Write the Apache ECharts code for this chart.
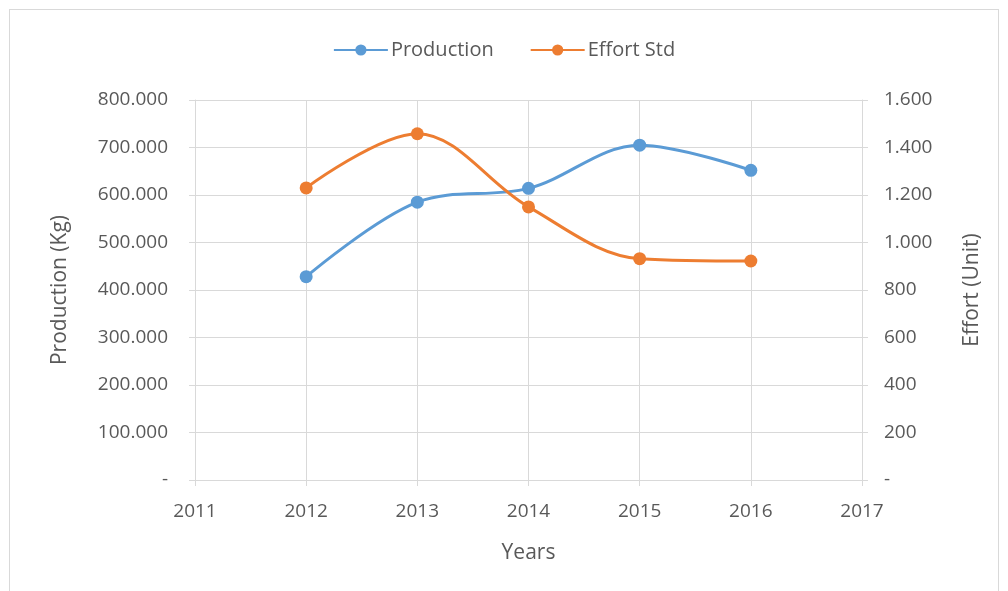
<!DOCTYPE html>
<html>
<head>
<meta charset="utf-8">
<script src="https://cdn.jsdelivr.net/npm/echarts@6/dist/echarts.min.js"></script>
<style>
html,body{margin:0;padding:0;background:#fff;}
#frame{position:absolute;left:9px;top:9px;width:990px;height:590px;border:1px solid #D9D9D9;box-sizing:border-box;}
#chart{position:absolute;left:0;top:0;width:1008px;height:591px;}
</style>
</head>
<body>
<div id="frame"></div>
<div id="chart"></div>
<script>
const years = [2012, 2013, 2014, 2015, 2016];
const production = [428000, 585000, 614000, 705000, 652000];
const effortStd = [1230, 1458, 1150, 932, 922];
const seriesNames = ['Production', 'Effort Std'];
const xTitle = 'Years';
const yLeftTitle = 'Production (Kg)';
const yRightTitle = 'Effort (Unit)';

function fmtDots(v) {
  if (v === 0) return '-';
  return String(Math.round(v)).replace(/\B(?=(\d{3})+(?!\d))/g, '.');
}

const textColor = '#595959';
const gridColor = '#D9D9D9';
const font = '"Open Sans", Lato, sans-serif';

const chart = echarts.init(document.getElementById('chart'));
chart.setOption({
  animation: false,
  textStyle: { fontFamily: font },
  legend: {
    top: 35,
    left: 'center',
    itemWidth: 54,
    itemHeight: 14,
    itemGap: 36,
    textStyle: { color: textColor, fontSize: 20, fontFamily: font, padding: [0, 0, 0, -2] },
    data: seriesNames
  },
  grid: { left: 195, right: 146, top: 100, bottom: 111 },
  xAxis: {
    type: 'value',
    min: 2011, max: 2017, interval: 1,
    name: xTitle,
    nameLocation: 'middle',
    nameGap: 63,
    nameTextStyle: { color: textColor, fontSize: 21, fontFamily: font },
    axisLine: { show: true, lineStyle: { color: gridColor, width: 1 } },
    axisTick: { show: true, length: 6, lineStyle: { color: gridColor } },
    splitLine: { show: true, lineStyle: { color: gridColor, width: 1 } },
    axisLabel: { color: textColor, fontSize: 19, margin: 22, formatter: v => String(v) }
  },
  yAxis: [
    {
      type: 'value', min: 0, max: 800000, interval: 100000,
      name: yLeftTitle, nameLocation: 'middle', nameGap: 124, nameRotate: 90,
      nameTextStyle: { color: textColor, fontSize: 21, fontFamily: font },
      axisLine: { show: true, lineStyle: { color: gridColor } },
      axisTick: { show: true, length: 6, lineStyle: { color: gridColor } },
      splitLine: { show: true, lineStyle: { color: gridColor } },
      axisLabel: { color: textColor, fontSize: 19, margin: 27, formatter: fmtDots }
    },
    {
      type: 'value', min: 0, max: 1600, interval: 200,
      name: yRightTitle, nameLocation: 'middle', nameGap: 100, nameRotate: 90,
      nameTextStyle: { color: textColor, fontSize: 21, fontFamily: font },
      axisLine: { show: true, lineStyle: { color: gridColor } },
      axisTick: { show: true, length: 6, lineStyle: { color: gridColor } },
      splitLine: { show: false },
      axisLabel: { color: textColor, fontSize: 19, margin: 22, formatter: fmtDots }
    }
  ],
  series: [
    {
      name: seriesNames[0], type: 'line', yAxisIndex: 0, smooth: 0.35,
      data: years.map((y, i) => [y, production[i]]),
      symbol: 'circle', symbolSize: 13,
      lineStyle: { color: '#5B9BD5', width: 3 },
      itemStyle: { color: '#5B9BD5' }
    },
    {
      name: seriesNames[1], type: 'line', yAxisIndex: 1, smooth: 0.35,
      data: years.map((y, i) => [y, effortStd[i]]),
      symbol: 'circle', symbolSize: 13,
      lineStyle: { color: '#ED7D31', width: 3 },
      itemStyle: { color: '#ED7D31' }
    }
  ]
});
</script>
</body>
</html>
